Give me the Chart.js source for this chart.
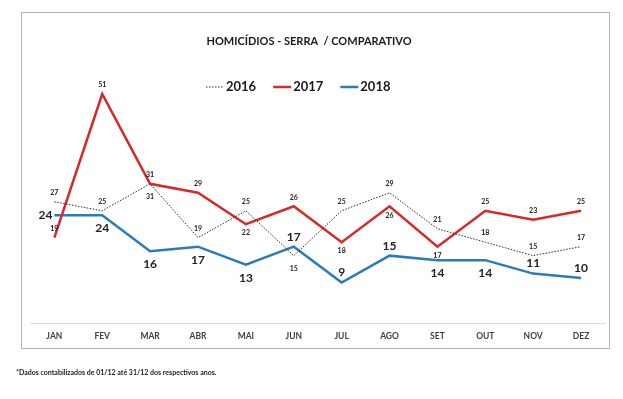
<!DOCTYPE html>
<html>
<head>
<meta charset="utf-8">
<script src="https://cdn.jsdelivr.net/npm/chart.js@4"></script>
<style>
  body { margin: 0; background: #fff; }
  #wrap { position: relative; width: 623px; height: 399px; }
  #box { position: absolute; left: 21px; top: 12px; width: 587px; height: 335px; border: 1px solid #b4b4b4; }
  #chart { position: absolute; left: 0; top: 0; }
  #note { position: absolute; left: 16px; top: 368px; font: bold 7px Lato, sans-serif; color: #222; margin: 0; }
</style>
</head>
<body>
<div id="wrap">
  <div id="box"></div>
  <canvas id="chart" width="623" height="399"></canvas>
  <p id="note">*Dados contabilizados de 01/12 até 31/12 dos respectivos anos.</p>
</div>
<script>
// chart data
const months = ['JAN', 'FEV', 'MAR', 'ABR', 'MAI', 'JUN', 'JUL', 'AGO', 'SET', 'OUT', 'NOV', 'DEZ'];
const years = ['2016', '2017', '2018'];
const values2016 = [27, 25, 31, 19, 25, 15, 25, 29, 21, 18, 15, 17];
const values2017 = [19, 51, 31, 29, 22, 26, 18, 26, 17, 25, 23, 25];
const values2018 = [24, 24, 16, 17, 13, 17, 9, 15, 14, 14, 11, 10];
const chartTitle = 'HOMICÍDIOS - SERRA  / COMPARATIVO';

// where each value label sits: t = above, b = below, l = left
const place2016 = ['t', 't', 'b', 't', 't', 'b', 't', 't', 't', 't', 't', 't'];
const place2017 = ['t', 't', 't', 't', 'b', 't', 'b', 'b', 'b', 't', 't', 't'];
const place2018 = ['l', 'b', 'b', 'b', 'b', 't', 't', 't', 'b', 'b', 't', 't'];

// Draws title, legend and point labels on top of the chart
const decorPlugin = {
    id: 'decor',
    afterDatasetsDraw(chart) {
        const ctx = chart.ctx;
        ctx.save();

        // title
        ctx.fillStyle = '#1a1a1a';
        ctx.font = 'bold 11px Lato, sans-serif';
        ctx.textAlign = 'center';
        ctx.textBaseline = 'middle';
        ctx.fillText(chartTitle, 309, 41);

        // legend
        let x = 206;
        const ly = 87;
        ctx.font = 'bold 13px Lato, sans-serif';
        ctx.textAlign = 'left';
        chart.data.datasets.forEach(ds => {
            ctx.beginPath();
            ctx.strokeStyle = ds.borderColor;
            ctx.lineWidth = ds.borderWidth;
            ctx.setLineDash(ds.borderDash || []);
            ctx.moveTo(x, ly);
            ctx.lineTo(x + 18, ly);
            ctx.stroke();
            ctx.setLineDash([]);
            ctx.fillStyle = '#1a1a1a';
            ctx.fillText(ds.label, x + 20, ly);
            x += 20 + ctx.measureText(ds.label).width + 17;
        });

        // value labels
        chart.data.datasets.forEach((ds, i) => {
            const meta = chart.getDatasetMeta(i);
            ctx.font = ds.labelFont;
            ctx.fillStyle = '#222';
            meta.data.forEach((pt, j) => {
                const where = ds.labelPlace[j];
                let lx = pt.x, lyy = pt.y;
                ctx.textAlign = 'center';
                if (where === 't') lyy -= ds.labelUp;
                else if (where === 'b') lyy += ds.labelDown;
                else { ctx.textAlign = 'right'; lx -= 2; }
                ctx.fillText(String(ds.data[j]), lx, lyy);
            });
        });
        ctx.restore();
    }
};

const ctx = document.getElementById('chart').getContext('2d');
new Chart(ctx, {
    type: 'line',
    data: {
        labels: months,
        datasets: [
            {
                label: years[0],
                data: values2016,
                borderColor: '#2a2a2a',
                borderWidth: 1,
                borderDash: [1.5, 1.5],
                labelPlace: place2016,
                labelFont: 'bold 7px Lato, sans-serif',
                labelUp: 9,
                labelDown: 13
            },
            {
                label: years[1],
                data: values2017,
                borderColor: '#d42a2a',
                borderWidth: 2.5,
                labelPlace: place2017,
                labelFont: 'bold 7px Lato, sans-serif',
                labelUp: 9,
                labelDown: 9
            },
            {
                label: years[2],
                data: values2018,
                borderColor: '#2b7bb9',
                borderWidth: 2.5,
                labelPlace: place2018,
                labelFont: 'bold 12px Lato, sans-serif',
                labelUp: 10,
                labelDown: 13
            }
        ]
    },
    options: {
        responsive: false,
        animation: false,
        layout: { padding: { left: 30.4, right: 18, top: 53.6, bottom: 52 } },
        elements: {
            point: { radius: 0 },
            line: { tension: 0 }
        },
        plugins: {
            legend: { display: false },
            tooltip: { enabled: false }
        },
        scales: {
            y: { display: false, min: 0, max: 60 },
            x: {
                offset: true,
                grid: { display: false, drawTicks: false },
                border: { display: true, color: '#d9d9d9', width: 1 },
                ticks: { color: '#404040', font: { family: 'Lato', size: 8.5, weight: 'bold' }, padding: 8 },
                afterFit: (axis) => { axis.height = 24; }
            }
        }
    },
    plugins: [decorPlugin]
});
</script>
</body>
</html>
